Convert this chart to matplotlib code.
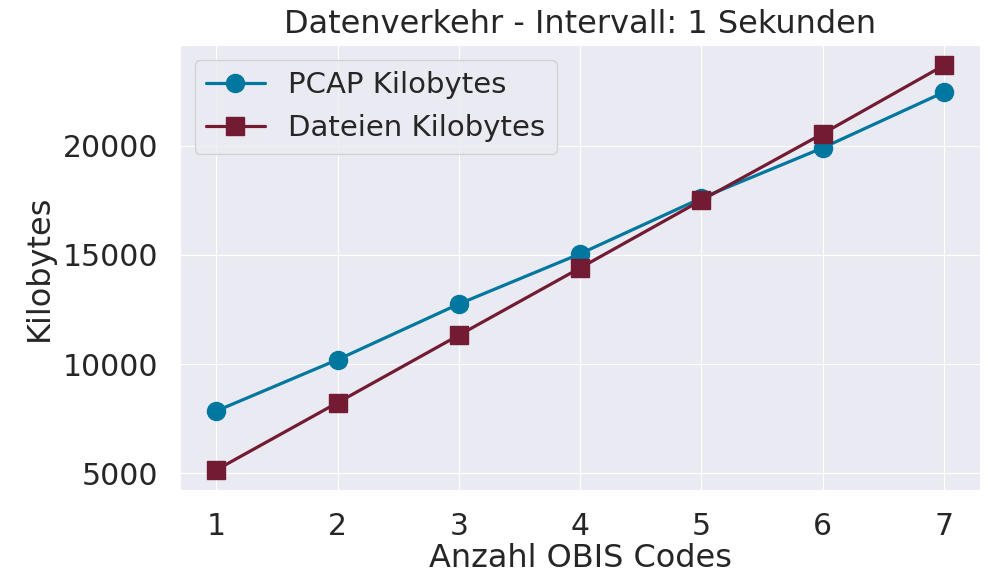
import matplotlib
matplotlib.use("Agg")
import matplotlib.pyplot as plt
import seaborn as sns

sns.set_style("darkgrid")
plt.rcParams['font.family'] = ['DejaVu Sans']

obis_codes = [1, 2, 3, 4, 5, 6, 7]
pcap_kb = [7850, 10200, 12750, 15050, 17600, 19900, 22450]
dateien_kb = [5150, 8230, 11320, 14400, 17500, 20550, 23680]

fig = plt.figure(figsize=(9.89, 5.8), dpi=100)
ax = fig.add_axes([0.182, 0.155, 0.809, 0.767])

ax.plot(obis_codes, pcap_kb, color='#00779e', marker='o', markersize=13,
        linewidth=2.3, label='PCAP Kilobytes')
ax.plot(obis_codes, dateien_kb, color='#731b33', marker='s', markersize=12.5,
        linewidth=2.3, label='Dateien Kilobytes')

ax.set_title('Datenverkehr - Intervall: 1 Sekunden', fontsize=23,
             color='#262626', pad=9)
ax.set_xlabel('Anzahl OBIS Codes', fontsize=23, color='#262626', labelpad=2)
ax.set_ylabel('Kilobytes', fontsize=23, color='#262626', labelpad=6)
ax.tick_params(labelsize=21.5, colors='#262626', pad=12)
ax.set_xticks(obis_codes)
ax.legend(loc='upper left', fontsize=21)

fig.savefig('out.png', dpi=100)
